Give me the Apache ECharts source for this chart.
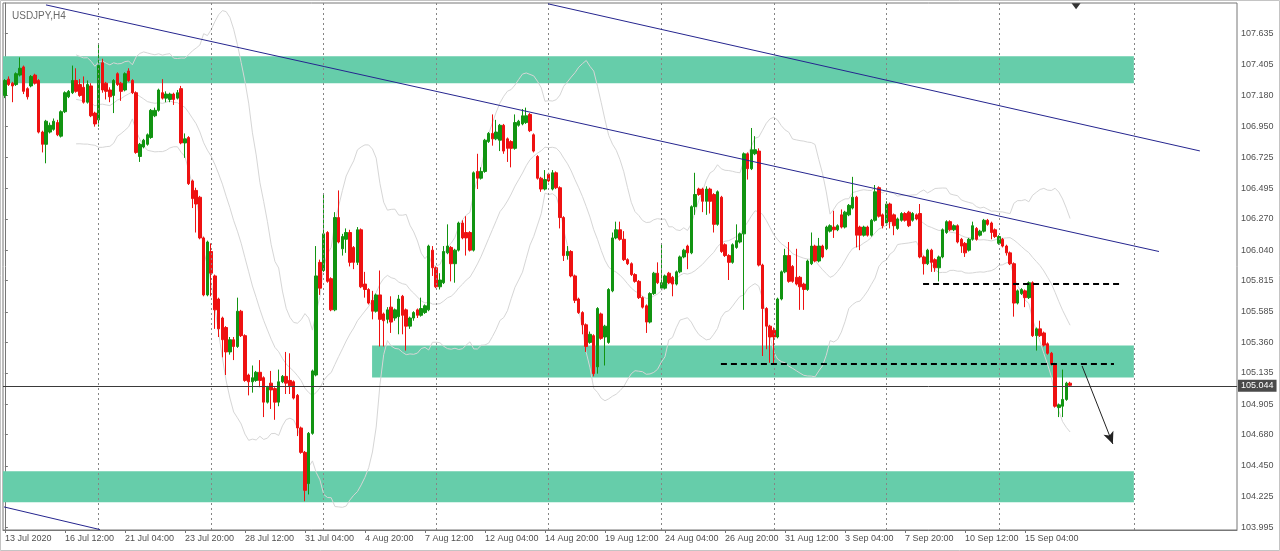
<!DOCTYPE html>
<html><head><meta charset="utf-8">
<script src="https://cdn.jsdelivr.net/npm/echarts@6/dist/echarts.min.js"></script>
<style>html,body{margin:0;padding:0;background:#fff}#c{width:1280px;height:551px}</style>
</head><body><div id="c"></div>
<script>
const title = 'USDJPY,H4';
const xTickLabels = ['13 Jul 2020','16 Jul 12:00','21 Jul 04:00','23 Jul 20:00','28 Jul 12:00','31 Jul 04:00','4 Aug 20:00','7 Aug 12:00','12 Aug 04:00','14 Aug 20:00','19 Aug 12:00','24 Aug 04:00','26 Aug 20:00','31 Aug 12:00','3 Sep 04:00','7 Sep 20:00','10 Sep 12:00','15 Sep 04:00'];
const labelStep = 16;
const slotCount = 329;
const yTickLabels = [103.995,104.225,104.450,104.680,104.905,105.135,105.360,105.585,105.815,106.040,106.270,106.495,106.725,106.950,107.180,107.405,107.635];
const yMin = 103.978, yMax = 107.861;
// [open, close, low, high]
const ohlc = [
[107.18,107.29,107.16,107.30],[107.30,107.26,107.25,107.32],[107.27,107.25,107.13,107.28],[107.26,107.34,107.25,107.35],
[107.33,107.38,107.32,107.46],[107.39,107.21,107.19,107.40],[107.23,107.17,107.15,107.24],[107.25,107.32,107.24,107.33],
[107.33,107.27,107.26,107.34],[107.29,106.91,106.90,107.30],[106.91,106.82,106.76,106.92],[106.82,106.99,106.68,107.00],
[106.91,106.96,106.90,106.98],[106.93,106.99,106.92,107.01],[106.98,106.89,106.88,107.00],[106.88,107.06,106.87,107.07],
[107.06,107.20,107.05,107.21],[107.17,107.21,107.16,107.22],[107.20,107.29,107.19,107.40],[107.29,107.21,107.20,107.38],
[107.26,107.18,107.17,107.30],[107.24,107.13,107.12,107.32],[107.13,107.26,107.12,107.29],[107.25,107.03,107.02,107.27],
[107.05,106.97,106.95,107.06],[107.00,107.40,106.95,107.56],[107.42,107.22,107.20,107.45],[107.27,107.21,107.15,107.28],
[107.22,107.17,107.13,107.24],[107.18,107.29,107.05,107.30],[107.34,107.26,107.25,107.35],[107.27,107.21,107.14,107.28],
[107.22,107.34,107.21,107.35],[107.36,107.29,107.28,107.38],[107.29,107.20,107.19,107.30],[107.20,106.76,106.75,107.21],
[106.73,106.82,106.69,106.83],[106.80,106.85,106.79,106.86],[106.82,106.89,106.81,106.90],[106.87,107.07,106.86,107.08],
[107.03,107.07,107.02,107.09],[107.07,107.22,107.06,107.23],[107.20,107.16,107.15,107.30],[107.16,107.19,107.13,107.21],
[107.15,107.19,107.13,107.20],[107.19,107.15,107.11,107.20],[107.16,107.20,107.15,107.22],[107.23,106.83,106.82,107.25],
[106.83,106.86,106.72,106.90],[106.87,106.53,106.52,106.88],[106.55,106.42,106.35,106.56],[106.48,106.38,106.17,106.50],
[106.43,106.13,106.12,106.44],[106.13,105.71,105.70,106.14],[105.71,106.10,105.70,106.11],[106.03,105.87,105.70,106.09],
[105.85,105.60,105.46,105.86],[105.68,105.46,105.40,105.69],[105.54,105.38,105.25,105.55],[105.47,105.29,105.12,105.48],
[105.29,105.38,105.27,105.40],[105.38,105.33,105.23,105.40],[105.33,105.59,105.32,105.69],[105.59,105.41,105.40,105.60],
[105.41,105.08,105.07,105.42],[105.12,105.07,104.97,105.13],[105.07,105.10,104.99,105.19],[105.08,105.14,105.07,105.15],
[105.14,105.08,105.03,105.23],[105.10,104.92,104.81,105.11],[104.92,105.03,104.91,105.04],[105.06,105.01,104.87,105.15],
[105.02,104.92,104.79,105.03],[104.92,105.07,104.89,105.16],[105.07,105.11,105.06,105.12],[105.11,105.06,104.98,105.29],
[105.08,105.04,104.98,105.28],[105.07,104.95,104.94,105.08],[104.97,104.73,104.67,104.98],[104.73,104.55,104.54,104.74],
[104.55,104.27,104.19,104.56],[104.32,104.69,104.24,104.70],[104.69,105.15,104.68,105.16],[105.12,105.85,105.11,106.07],
[105.95,105.76,105.71,105.97],[105.89,106.16,105.88,106.45],[106.17,105.81,105.80,106.18],[105.83,105.60,105.59,105.84],
[105.60,106.28,105.59,106.32],[106.28,106.10,106.09,106.48],[106.05,106.14,106.00,106.16],[106.12,106.17,106.02,106.20],
[106.17,105.95,105.92,106.19],[106.06,105.95,105.90,106.07],[105.95,106.19,105.93,106.21],[106.19,105.77,105.76,106.20],
[105.79,105.75,105.69,105.88],[105.75,105.65,105.64,105.76],[105.67,105.59,105.53,105.74],[105.59,105.71,105.58,105.72],
[105.71,105.53,105.33,105.89],[105.57,105.52,105.33,105.58],[105.53,105.60,105.50,105.62],[105.62,105.51,105.43,105.70],
[105.54,105.60,105.52,105.61],[105.55,105.68,105.42,105.71],[105.70,105.56,105.42,105.71],[105.60,105.48,105.30,105.61],
[105.48,105.54,105.46,105.55],[105.54,105.58,105.52,105.59],[105.60,105.56,105.54,105.61],[105.56,105.61,105.55,105.69],
[105.58,105.63,105.57,105.64],[105.60,106.07,105.59,106.08],[106.04,105.91,105.85,106.07],[105.91,105.77,105.76,105.92],
[105.77,105.82,105.75,105.87],[105.80,106.03,105.79,106.07],[106.02,106.07,106.01,106.23],[106.06,105.94,105.81,106.07],
[105.94,106.04,105.80,106.05],[106.04,106.24,106.03,106.25],[106.24,106.13,106.12,106.26],[106.17,106.13,106.00,106.29],
[106.17,106.04,106.03,106.18],[106.04,106.61,106.03,106.62],[106.62,106.57,106.49,106.75],[106.57,106.62,106.56,106.65],
[106.62,106.85,106.61,106.86],[106.84,106.90,106.83,106.91],[106.90,106.86,106.81,107.04],[106.86,106.91,106.85,107.00],
[106.85,106.96,106.77,106.97],[106.96,106.77,106.75,106.97],[106.86,106.79,106.69,106.87],[106.84,106.79,106.65,106.85],
[106.79,106.98,106.78,107.04],[106.96,106.99,106.95,107.00],[106.97,107.03,106.96,107.08],[106.98,107.03,106.97,107.09],
[107.04,106.92,106.91,107.05],[106.89,106.77,106.76,106.90],[106.73,106.57,106.56,106.74],[106.57,106.49,106.47,106.58],
[106.49,106.56,106.48,106.63],[106.60,106.55,106.54,106.61],[106.49,106.61,106.48,106.63],[106.61,106.50,106.49,106.62],
[106.50,106.28,106.20,106.51],[106.28,106.00,105.96,106.29],[106.00,106.03,105.97,106.07],[106.03,105.85,105.84,106.04],
[105.85,105.67,105.65,105.86],[105.68,105.58,105.57,105.69],[105.58,105.49,105.42,105.59],[105.49,105.33,105.29,105.50],
[105.36,105.42,105.35,105.44],[105.41,105.13,105.11,105.42],[105.18,105.61,105.13,105.62],[105.57,105.39,105.38,105.58],
[105.40,105.48,105.19,105.49],[105.36,105.75,105.35,105.76],[105.74,106.13,105.73,106.17],[106.13,106.19,106.12,106.25],
[106.19,106.12,106.11,106.25],[106.12,105.97,105.96,106.18],[105.97,105.94,105.93,105.98],[105.94,105.86,105.85,105.95],
[105.86,105.81,105.80,105.87],[105.81,105.69,105.68,105.82],[105.69,105.62,105.61,105.70],[105.63,105.51,105.43,105.64],
[105.51,105.72,105.50,105.73],[105.72,105.87,105.71,105.88],[105.87,105.80,105.79,105.95],[105.76,105.80,105.75,106.08],
[105.76,105.85,105.75,105.86],[105.87,105.80,105.79,105.88],[105.84,105.79,105.70,105.85],[105.79,105.88,105.78,105.89],
[105.88,105.99,105.87,106.00],[105.99,106.04,105.98,106.05],[106.07,106.02,105.90,106.08],[106.02,106.36,106.01,106.37],
[106.36,106.45,106.30,106.61],[106.49,106.45,106.44,106.50],[106.49,106.40,106.32,106.50],[106.40,106.49,106.30,106.51],
[106.49,106.40,106.31,106.50],[106.45,106.23,106.17,106.46],[106.23,106.47,106.22,106.48],[106.43,106.03,106.02,106.44],
[106.08,106.00,105.99,106.09],[106.00,105.95,105.82,106.01],[105.95,106.08,105.94,106.09],[106.06,106.11,106.05,106.23],
[106.10,106.16,106.09,106.17],[106.16,106.75,105.60,106.76],[106.75,106.64,106.56,106.76],[106.64,106.78,106.63,106.94],
[106.75,106.78,106.74,106.88],[106.77,105.93,105.92,106.79],[105.93,105.61,105.26,105.94],[105.61,105.48,105.31,105.62],
[105.48,105.40,105.21,105.49],[105.45,105.40,105.20,105.47],[105.40,105.68,105.39,105.69],[105.68,105.88,105.67,105.89],
[105.88,106.00,105.87,106.05],[106.00,105.81,105.80,106.10],[105.92,105.81,105.80,105.93],[105.84,105.79,105.78,106.05],
[105.84,105.77,105.60,105.85],[105.79,105.75,105.60,105.80],[105.75,105.96,105.74,105.97],[105.94,106.07,105.93,106.17],
[106.07,105.96,105.95,106.08],[105.96,106.07,105.95,106.13],[106.07,105.99,105.98,106.08],[106.05,106.21,106.04,106.22],
[106.18,106.22,106.17,106.23],[106.21,106.19,106.13,106.33],[106.19,106.22,106.18,106.23],[106.30,106.21,106.20,106.34],
[106.21,106.32,106.20,106.33],[106.30,106.37,106.29,106.38],[106.35,106.43,106.34,106.58],[106.43,106.15,106.06,106.44],
[106.21,106.15,106.04,106.22],[106.15,106.21,106.14,106.22],[106.21,106.15,106.14,106.22],[106.15,106.26,106.14,106.27],
[106.26,106.47,106.25,106.52],[106.50,106.29,106.28,106.51],[106.30,106.22,106.20,106.31],[106.24,106.38,106.22,106.40],
[106.38,106.25,106.20,106.39],[106.30,106.22,106.15,106.31],[106.20,106.27,106.19,106.28],[106.26,106.31,106.25,106.32],
[106.31,106.26,106.25,106.32],[106.32,106.22,106.21,106.33],[106.26,106.31,106.25,106.32],[106.30,106.27,106.26,106.31],
[106.31,105.99,105.98,106.38],[105.99,105.94,105.86,106.00],[105.94,106.04,105.93,106.05],[106.04,105.95,105.88,106.05],
[105.97,105.91,105.88,105.98],[105.91,105.99,105.81,106.00],[105.99,106.19,105.98,106.20],[106.17,106.25,106.16,106.26],
[106.25,106.19,106.18,106.26],[106.19,106.22,106.18,106.23],[106.22,106.10,106.09,106.23],[106.12,106.07,106.02,106.13],
[106.09,106.02,105.99,106.10],[106.04,106.12,106.03,106.13],[106.12,106.22,106.11,106.25],[106.20,106.12,106.11,106.21],
[106.15,106.18,106.14,106.19],[106.18,106.26,106.17,106.27],[106.26,106.23,106.22,106.27],[106.24,106.17,106.12,106.25],
[106.19,106.14,106.13,106.20],[106.09,106.14,106.08,106.15],[106.12,106.07,106.06,106.13],[106.07,106.02,106.00,106.08],
[106.02,105.94,105.93,106.03],[105.94,105.65,105.55,105.95],[105.65,105.74,105.64,105.75],[105.72,105.75,105.71,105.76],
[105.74,105.69,105.62,105.75],[105.69,105.80,105.68,105.81],[105.80,105.41,105.40,105.81],[105.41,105.46,105.30,105.47],
[105.46,105.41,105.40,105.52],[105.43,105.34,105.33,105.44],[105.35,105.28,105.27,105.36],[105.28,105.20,105.19,105.29],
[105.20,104.89,104.88,105.21],[104.88,104.90,104.81,104.91],[104.89,104.94,104.81,105.16],[104.94,105.06,104.93,105.07],
[105.06,105.044,105.04,105.07]
];
const bidPrice = 105.044;
const weekLines = [25,55,85,115,145,175,205,235,265,301];
// zones: [xStart, priceTop, xEnd, priceBottom] (x in bar index units)
const zones = [[-0.5,107.468,301,107.270],[97.9,105.338,301,105.102],[-0.5,104.410,301,104.182]];
const trendLines = [[10.96,107.847,307.7,106.030],[144.8,107.855,318.6,106.771],[-0.23,104.148,25.35,103.981]];
const levelLines = [[244.8,105.794,298.1,105.794],[190.9,105.206,295.7,105.206]];
const arrowLine = [287.2,105.187,295.4,104.612];
const shiftMarkerX = 285.6;

function bollinger(closes, n, k) {
  const up = [], mid = [], lo = [];
  for (let i = 0; i < closes.length; i++) {
    if (i < n - 1) { up.push('-'); mid.push('-'); lo.push('-'); continue; }
    let s = 0; for (let j = i - n + 1; j <= i; j++) s += closes[j];
    const m = s / n;
    let v = 0; for (let j = i - n + 1; j <= i; j++) v += (closes[j] - m) * (closes[j] - m);
    const sd = Math.sqrt(v / n);
    up.push(m + k * sd); mid.push(m); lo.push(m - k * sd);
  }
  return {up, mid, lo};
}
const closes = ohlc.map(d => d[1]);
const bb = bollinger(closes, 20, 2);

const categories = Array.from({length: slotCount}, (_, i) => String(i));
const showLbl = i => i % labelStep === 0 && i / labelStep < xTickLabels.length;
const FONT = 'Liberation Sans';
const UP = '#119411', DOWN = '#ee1111';

const chart = echarts.init(document.getElementById('c'), null, {renderer: 'canvas'});
const bbStyle = {color: '#d6d6d6', width: 1};
chart.setOption({
  animation: false,
  backgroundColor: '#fff',
  title: {text: title, left: 7, top: 6, textStyle: {fontFamily: FONT, fontSize: 10, fontWeight: 'normal', color: '#6a6a6a'}},
  graphic: [{type: 'rect', shape: {x: 0.5, y: 0.5, width: 1279, height: 550}, style: {fill: 'none', stroke: '#c4c4c4', lineWidth: 1}, silent: true}],
  grid: {left: 3, right: 43, top: 3, bottom: 21, show: true, borderColor: '#777', borderWidth: 1, backgroundColor: '#fff'},
  xAxis: [{
    type: 'category', data: categories, boundaryGap: true,
    axisLine: {lineStyle: {color: '#777'}},
    axisTick: {show: true, alignWithLabel: true, interval: showLbl, length: 3, lineStyle: {color: '#777'}},
    axisLabel: {interval: showLbl, align: 'left', margin: 4, fontFamily: FONT, fontSize: 9, color: '#505050',
      formatter: v => xTickLabels[Number(v) / labelStep] || ''},
    splitLine: {show: false}
  }, {
    type: 'value', min: -0.5, max: slotCount - 0.5, show: false
  }],
  yAxis: [{
    type: 'value', position: 'right', min: yMin, max: yMax, scale: true,
    axisLine: {show: true, lineStyle: {color: '#777'}},
    axisTick: {show: true, customValues: yTickLabels, length: 3, lineStyle: {color: '#777'}},
    axisLabel: {customValues: yTickLabels, margin: 4, fontFamily: FONT, fontSize: 9, color: '#505050', formatter: v => v.toFixed(3)},
    splitLine: {show: false}
  }],
  series: [
    {
      type: 'line', xAxisIndex: 1, yAxisIndex: 0, data: [], z: 1, silent: true,
      markArea: {silent: true, itemStyle: {color: '#66cdaa', opacity: 1},
        data: zones.map(z => [{coord: [z[0], z[1]]}, {coord: [z[2], z[3]]}])},
      markLine: {silent: true, symbol: ['none', 'none'], label: {show: false},
        lineStyle: {color: '#858585', width: 1, type: [2, 3]},
        data: weekLines.map(v => ({xAxis: v}))}
    },
    {type: 'line', data: bb.up, showSymbol: false, lineStyle: bbStyle, z: 2, silent: true},
    {type: 'line', data: bb.mid, showSymbol: false, lineStyle: bbStyle, z: 2, silent: true},
    {type: 'line', data: bb.lo, showSymbol: false, lineStyle: bbStyle, z: 2, silent: true},
    {
      type: 'candlestick', data: ohlc, barWidth: 3, z: 3,
      itemStyle: {color: UP, color0: DOWN, borderColor: UP, borderColor0: DOWN, borderWidth: 1},
      markLine: {silent: true, symbol: ['none', 'none'],
        lineStyle: {color: '#3a3a3a', width: 1, type: 'solid'},
        label: {show: true, position: 'end', distance: 1, formatter: bidPrice.toFixed(3), fontFamily: FONT, fontSize: 9,
          color: '#fff', backgroundColor: '#4a4a4a', padding: [2, 3, 1, 3]},
        data: [{yAxis: bidPrice}]}
    },
    {
      type: 'line', xAxisIndex: 1, yAxisIndex: 0, data: [], z: 5, silent: true,
      markLine: {silent: true, symbol: ['none', 'none'], label: {show: false},
        lineStyle: {color: '#25258f', width: 1, type: 'solid'},
        data: trendLines.map(t => [{coord: [t[0], t[1]]}, {coord: [t[2], t[3]]}])}
    },
    {
      type: 'line', xAxisIndex: 1, yAxisIndex: 0, data: [], z: 5, silent: true,
      markLine: {silent: true, symbol: ['none', 'none'], label: {show: false},
        lineStyle: {color: '#000', width: 2, type: [6, 4]},
        data: levelLines.map(t => [{coord: [t[0], t[1]]}, {coord: [t[2], t[3]]}])}
    },
    {
      type: 'line', xAxisIndex: 1, yAxisIndex: 0, data: [], z: 5, silent: true,
      markLine: {silent: true, symbol: ['none', 'arrow'], symbolSize: [8, 12], label: {show: false},
        lineStyle: {color: '#222', width: 1, type: 'solid'},
        data: [[{coord: [arrowLine[0], arrowLine[1]]}, {coord: [arrowLine[2], arrowLine[3]]}]]},
      markPoint: {silent: true, symbol: 'triangle', symbolRotate: 180, symbolSize: [9, 6], symbolOffset: [0, 3],
        itemStyle: {color: '#333'}, label: {show: false},
        data: [{coord: [shiftMarkerX, yMax - 0.001]}]}
    }
  ]
});
</script>
</body></html>
